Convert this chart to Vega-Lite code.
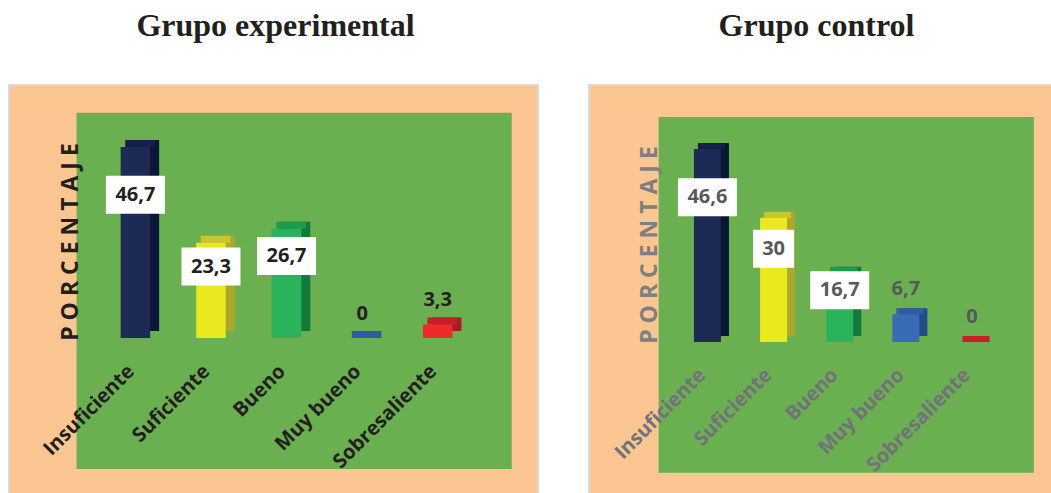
{
  "$schema": "https://vega.github.io/schema/vega-lite/v6.json",
  "background": "white",
  "padding": {"left": 8, "top": 9, "right": 0, "bottom": 0},
  "spacing": 49,
  "config": {
    "locale": {"number": {"decimal": ",", "thousands": ".", "grouping": [3], "currency": ["", " €"]}},
    "axis": {"disable": true},
    "bar": {"stroke": null}
  },
  "datasets": {
    "experimental": [
      {"nivel": "Insuficiente", "porcentaje": 46.7},
      {"nivel": "Suficiente", "porcentaje": 23.3},
      {"nivel": "Bueno", "porcentaje": 26.7},
      {"nivel": "Muy bueno", "porcentaje": 0},
      {"nivel": "Sobresaliente", "porcentaje": 3.3}
    ],
    "control": [
      {"nivel": "Insuficiente", "porcentaje": 46.6},
      {"nivel": "Suficiente", "porcentaje": 30},
      {"nivel": "Bueno", "porcentaje": 16.7},
      {"nivel": "Muy bueno", "porcentaje": 6.7},
      {"nivel": "Sobresaliente", "porcentaje": 0}
    ]
  },
  "hconcat": [
    {
      "width": 529,
      "height": 410,
      "data": {"name": "experimental"},
      "title": {"text": "Grupo experimental", "font": "Liberation Serif", "fontSize": 32, "fontWeight": "bold", "color": "#231F20", "anchor": "middle", "baseline": "alphabetic", "offset": 17, "dx": 2},
      "view": {"fill": "#FCC692", "stroke": "#D9D9D9", "strokeWidth": 2},
      "resolve": {"scale": {"y": "independent"}},
      "layer": [
        {
          "resolve": {"scale": {"color": "independent"}},
          "layer": [
            {
              "data": {"values": [{}]},
              "mark": {"type": "rect", "fill": "#6AAF50"},
              "encoding": {
                "x": {"datum": "Insuficiente", "type": "nominal", "bandPosition": -0.2785},
                "x2": {"datum": "Sobresaliente", "bandPosition": 1.48},
                "y": {"datum": 55.09, "type": "quantitative"},
                "y2": {"datum": -32.03}
              }
            },
            {
              "mark": {"type": "bar", "width": 29.5, "xOffset": 9, "yOffset": -7, "y2Offset": -7},
              "encoding": {
                "x": {"field": "nivel", "type": "nominal"},
                "y": {"field": "porcentaje", "type": "quantitative"},
                "y2": {"datum": 0},
                "color": {"field": "nivel", "type": "nominal", "legend": null,
                  "scale": {"domain": ["Insuficiente", "Suficiente", "Bueno", "Muy bueno", "Sobresaliente"], "range": ["#0B1535", "#ABA82B", "#127A3A", "#234D88", "#A81D23"]}}
              }
            },
            {
              "mark": {"type": "bar", "width": 29.5, "xOffset": 4.5, "yOffset": -7, "y2Offset": 0},
              "encoding": {
                "x": {"field": "nivel", "type": "nominal"},
                "y": {"field": "porcentaje", "type": "quantitative"},
                "y2": {"field": "porcentaje"},
                "color": {"field": "nivel", "type": "nominal", "legend": null,
                  "scale": {"domain": ["Insuficiente", "Suficiente", "Bueno", "Muy bueno", "Sobresaliente"], "range": ["#15204A", "#C9C52C", "#1D9A4B", "#2F5DA0", "#C8202A"]}}
              }
            },
            {
              "mark": {"type": "bar", "width": 29.5},
              "encoding": {
                "x": {"field": "nivel", "type": "nominal",
                  "scale": {"domain": ["Insuficiente", "Suficiente", "Bueno", "Muy bueno", "Sobresaliente"], "paddingInner": 0, "paddingOuter": 1.0503, "align": 0.5863}},
                "y": {"field": "porcentaje", "type": "quantitative",
                  "scale": {"domain": [-38.39, 61.86], "nice": false, "zero": false}},
                "y2": {"datum": 0},
                "color": {"field": "nivel", "type": "nominal", "legend": null,
                  "scale": {"domain": ["Insuficiente", "Suficiente", "Bueno", "Muy bueno", "Sobresaliente"], "range": ["#1E2A56", "#EAE81E", "#2BB35B", "#3A6CB5", "#EE2B2B"]}}
              }
            },
            {
              "transform": [{"filter": "datum.porcentaje < 10"}],
              "mark": {"type": "text", "font": "Open Sans", "fontSize": 20, "fontWeight": "bold", "color": "#231F20", "baseline": "middle", "dy": -24},
              "encoding": {
                "x": {"field": "nivel", "type": "nominal"},
                "y": {"field": "porcentaje", "type": "quantitative"},
                "text": {"field": "porcentaje", "type": "quantitative", "format": ".1~f"}
              }
            },
            {
              "mark": {"type": "text", "font": "Open Sans", "fontSize": 20, "fontWeight": "bold", "color": "#231F20", "angle": 315, "align": "right", "baseline": "middle", "dy": -6},
              "encoding": {
                "x": {"field": "nivel", "type": "nominal"},
                "y": {"datum": -8.5, "type": "quantitative"},
                "text": {"field": "nivel", "type": "nominal"}
              }
            },
            {
              "data": {"values": [{"titulo": "P O R C E N T A J E"}]},
              "mark": {"type": "text", "font": "Open Sans", "fontSize": 23, "fontWeight": "bold", "color": "#231F20", "angle": 270, "align": "center", "baseline": "alphabetic"},
              "encoding": {
                "x": {"datum": "Insuficiente", "type": "nominal", "bandPosition": -0.265},
                "y": {"datum": 23.47, "type": "quantitative"},
                "text": {"field": "titulo", "type": "nominal"}
              }
            }
          ]
        },
        {
          "transform": [{"filter": "datum.porcentaje >= 10"}],
          "encoding": {
            "x": {"field": "nivel", "type": "nominal"},
            "y": {"field": "porcentaje", "type": "quantitative",
              "scale": {"domain": [-51.19, 82.48], "nice": false, "zero": false}}
          },
          "layer": [
            {
              "transform": [{"filter": "datum.porcentaje % 1 != 0"}],
              "mark": {"type": "bar", "width": 59, "fill": "white", "yOffset": -19, "y2Offset": 19},
              "encoding": {"y2": {"field": "porcentaje"}}
            },
            {
              "transform": [{"filter": "datum.porcentaje % 1 == 0"}],
              "mark": {"type": "bar", "width": 41, "fill": "white", "yOffset": -19, "y2Offset": 19},
              "encoding": {"y2": {"field": "porcentaje"}}
            },
            {
              "mark": {"type": "text", "font": "Open Sans", "fontSize": 20, "fontWeight": "bold", "color": "#231F20", "baseline": "middle"},
              "encoding": {"text": {"field": "porcentaje", "type": "quantitative", "format": ".1~f"}}
            }
          ]
        }
      ]
    },
    {
      "width": 463,
      "height": 410,
      "data": {"name": "control"},
      "title": {"text": "Grupo control", "font": "Liberation Serif", "fontSize": 32, "fontWeight": "bold", "color": "#231F20", "anchor": "middle", "baseline": "alphabetic", "offset": 17, "dx": -4},
      "view": {"fill": "#FCC692", "stroke": "#D9D9D9", "strokeWidth": 2},
      "resolve": {"scale": {"y": "independent"}},
      "layer": [
        {
          "resolve": {"scale": {"color": "independent"}},
          "layer": [
            {
              "data": {"values": [{}]},
              "mark": {"type": "rect", "fill": "#6AAF50"},
              "encoding": {
                "x": {"datum": "Insuficiente", "type": "nominal", "bandPosition": -0.2376},
                "x2": {"datum": "Sobresaliente", "bandPosition": 1.4354},
                "y": {"datum": 54.35, "type": "quantitative"},
                "y2": {"datum": -31.57}
              }
            },
            {
              "mark": {"type": "bar", "width": 27, "xOffset": 8, "yOffset": -6, "y2Offset": -6},
              "encoding": {
                "x": {"field": "nivel", "type": "nominal"},
                "y": {"field": "porcentaje", "type": "quantitative"},
                "y2": {"datum": 0},
                "color": {"field": "nivel", "type": "nominal", "legend": null,
                  "scale": {"domain": ["Insuficiente", "Suficiente", "Bueno", "Muy bueno", "Sobresaliente"], "range": ["#0B1535", "#ABA82B", "#127A3A", "#234D88", "#A81D23"]}}
              }
            },
            {
              "mark": {"type": "bar", "width": 27, "xOffset": 4, "yOffset": -6, "y2Offset": 0},
              "encoding": {
                "x": {"field": "nivel", "type": "nominal"},
                "y": {"field": "porcentaje", "type": "quantitative"},
                "y2": {"field": "porcentaje"},
                "color": {"field": "nivel", "type": "nominal", "legend": null,
                  "scale": {"domain": ["Insuficiente", "Suficiente", "Bueno", "Muy bueno", "Sobresaliente"], "range": ["#15204A", "#C9C52C", "#1D9A4B", "#2F5DA0", "#C8202A"]}}
              }
            },
            {
              "mark": {"type": "bar", "width": 27},
              "encoding": {
                "x": {"field": "nivel", "type": "nominal",
                  "scale": {"domain": ["Insuficiente", "Suficiente", "Bueno", "Muy bueno", "Sobresaliente"], "paddingInner": 0, "paddingOuter": 1.0209, "align": 0.6453}},
                "y": {"field": "porcentaje", "type": "quantitative",
                  "scale": {"domain": [-36.96, 62.08], "nice": false, "zero": false}},
                "y2": {"datum": 0},
                "color": {"field": "nivel", "type": "nominal", "legend": null,
                  "scale": {"domain": ["Insuficiente", "Suficiente", "Bueno", "Muy bueno", "Sobresaliente"], "range": ["#1E2A56", "#EAE81E", "#2BB35B", "#3A6CB5", "#EE2B2B"]}}
              }
            },
            {
              "transform": [{"filter": "datum.porcentaje < 10"}],
              "mark": {"type": "text", "font": "Open Sans", "fontSize": 20, "fontWeight": "bold", "color": "#595959", "baseline": "middle", "dy": -25},
              "encoding": {
                "x": {"field": "nivel", "type": "nominal"},
                "y": {"field": "porcentaje", "type": "quantitative"},
                "text": {"field": "porcentaje", "type": "quantitative", "format": ".1~f"}
              }
            },
            {
              "mark": {"type": "text", "font": "Open Sans", "fontSize": 20, "fontWeight": "bold", "color": "#72727A", "angle": 315, "align": "right", "baseline": "middle", "dy": -7},
              "encoding": {
                "x": {"field": "nivel", "type": "nominal"},
                "y": {"datum": -8.5, "type": "quantitative"},
                "text": {"field": "nivel", "type": "nominal"}
              }
            },
            {
              "data": {"values": [{"titulo": "P O R C E N T A J E"}]},
              "mark": {"type": "text", "font": "Open Sans", "fontSize": 23, "fontWeight": "bold", "color": "#7F7F7F", "angle": 270, "align": "center", "baseline": "alphabetic"},
              "encoding": {
                "x": {"datum": "Insuficiente", "type": "nominal", "bandPosition": -0.257},
                "y": {"datum": 23.43, "type": "quantitative"},
                "text": {"field": "titulo", "type": "nominal"}
              }
            }
          ]
        },
        {
          "transform": [{"filter": "datum.porcentaje >= 10"}],
          "encoding": {
            "x": {"field": "nivel", "type": "nominal"},
            "y": {"field": "porcentaje", "type": "quantitative",
              "scale": {"domain": [-49.28, 82.77], "nice": false, "zero": false}}
          },
          "layer": [
            {
              "transform": [{"filter": "datum.porcentaje % 1 != 0"}],
              "mark": {"type": "bar", "width": 59, "fill": "white", "yOffset": -19, "y2Offset": 19},
              "encoding": {"y2": {"field": "porcentaje"}}
            },
            {
              "transform": [{"filter": "datum.porcentaje % 1 == 0"}],
              "mark": {"type": "bar", "width": 41, "fill": "white", "yOffset": -19, "y2Offset": 19},
              "encoding": {"y2": {"field": "porcentaje"}}
            },
            {
              "mark": {"type": "text", "font": "Open Sans", "fontSize": 20, "fontWeight": "bold", "color": "#595959", "baseline": "middle"},
              "encoding": {"text": {"field": "porcentaje", "type": "quantitative", "format": ".1~f"}}
            }
          ]
        }
      ]
    }
  ]
}
